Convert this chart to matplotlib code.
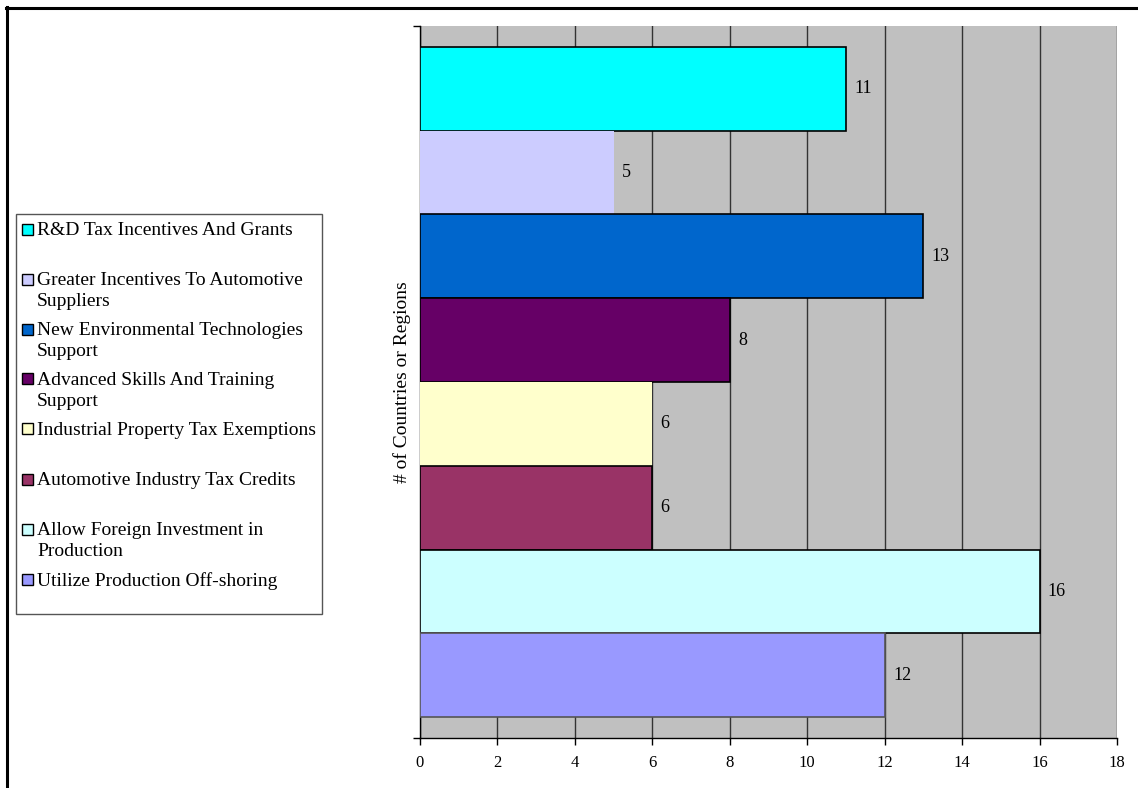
import matplotlib
matplotlib.use("Agg")
import matplotlib.pyplot as plt
from matplotlib.patches import Rectangle
from matplotlib.lines import Line2D

plt.rcParams['font.family'] = ['Liberation Serif', 'DejaVu Serif']

# data, top bar first
categories = ['R&D Tax Incentives And Grants',
              'Greater Incentives To Automotive\nSuppliers',
              'New Environmental Technologies\nSupport',
              'Advanced Skills And Training\nSupport',
              'Industrial Property Tax Exemptions',
              'Automotive Industry Tax Credits',
              'Allow Foreign Investment in\nProduction',
              'Utilize Production Off-shoring']
counts = [11, 5, 13, 8, 6, 6, 16, 12]
xticks = [0, 2, 4, 6, 8, 10, 12, 14, 16, 18]

colors = ['#00FFFF', '#CCCCFF', '#0066CC', '#660066',
          '#FFFFCC', '#993366', '#CCFFFF', '#9999FF']
edges = ['black', 'none', 'black', 'black', 'none', 'black', 'black', '#555555']

W, H = 1138, 788
fig = plt.figure(figsize=(W / 100, H / 100), dpi=100)
ax = fig.add_axes([420 / W, 1 - 738 / H, (1117 - 420) / W, (738 - 26) / H])
ax.set_facecolor('#C0C0C0')

ypos = [i + 0.5 for i in range(len(counts))]
bars = ax.barh(ypos, counts, height=1.0, color=colors, edgecolor=edges,
               linewidth=1.2, zorder=3)
ax.bar_label(bars, labels=[str(c) for c in counts], padding=6, fontsize=13)

ax.set_xlim(0, 18)
ax.set_ylim(8.25, -0.25)
ax.set_xticks(xticks)
ax.set_xticklabels([str(t) for t in xticks], fontsize=12)
ax.set_yticks([-0.25, 8.25])
ax.set_yticklabels([])
ax.tick_params(axis='both', direction='out', length=5, width=1, color='black')
ax.tick_params(axis='x', pad=7)
ax.grid(axis='x', color='#333333', linewidth=1, zorder=1)
ax.set_axisbelow(True)
for s in ['top', 'right']:
    ax.spines[s].set_visible(False)
for s in ['left', 'bottom']:
    ax.spines[s].set_linewidth(1)
ax.set_ylabel('# of Countries or Regions', fontsize=14, labelpad=-2)

# legend drawn by hand on the figure (pixel positions from the top-left)
def fx(px):
    return px / W

def fy(py):
    return 1 - py / H

fig.patches.append(Rectangle((fx(16), fy(614)), fx(322 - 16), (614 - 214) / H,
                             transform=fig.transFigure, facecolor='white',
                             edgecolor='#555555', linewidth=1))
for i, (lab, col) in enumerate(zip(categories, colors)):
    yc = 229 + 50 * i
    fig.patches.append(Rectangle((fx(22), fy(yc + 5.5)), fx(11), 11 / H,
                                 transform=fig.transFigure, facecolor=col,
                                 edgecolor='black', linewidth=1))
    fig.text(fx(37), fy(yc - 7), lab, fontsize=14, va='top', ha='left',
             linespacing=1.3)

# outer frame
fig.add_artist(Line2D([fx(6), 1], [fy(7.5), fy(7.5)], color='black',
                      linewidth=2.2, transform=fig.transFigure))
fig.add_artist(Line2D([fx(6.5), fx(6.5)], [fy(7), 0], color='black',
                      linewidth=2.2, transform=fig.transFigure))

fig.savefig('out.png', dpi=100, facecolor='white')
